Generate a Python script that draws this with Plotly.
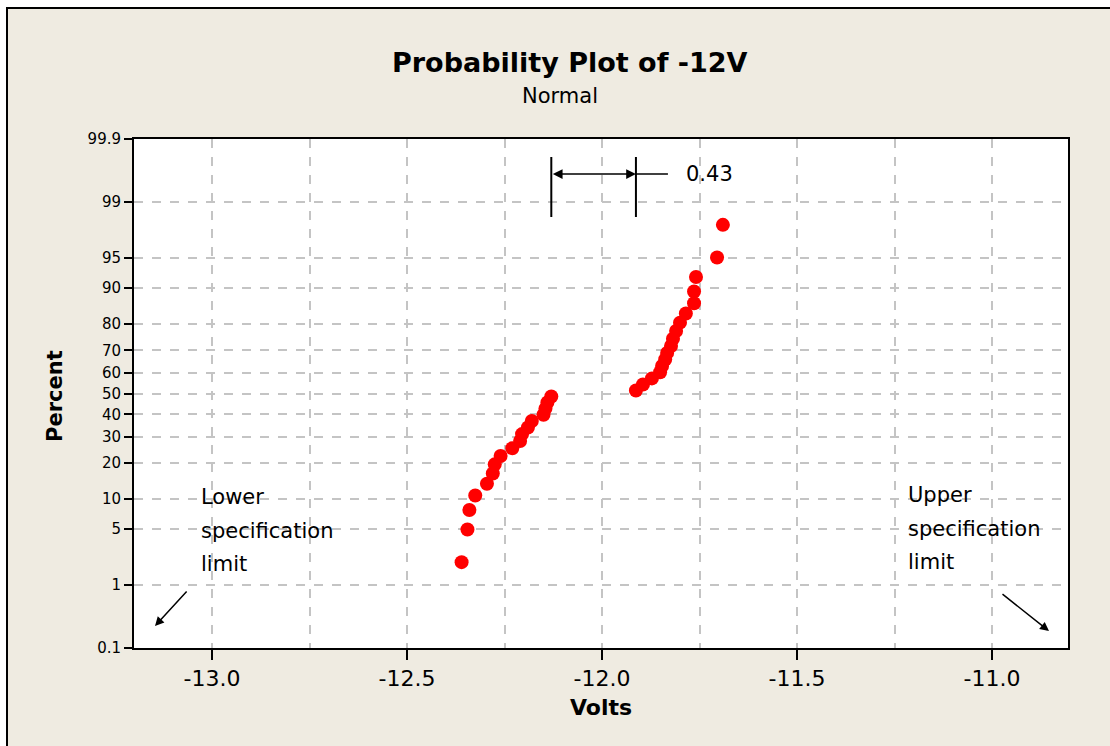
import plotly.graph_objects as go
from statistics import NormalDist

# ---- data ----
volts_low = [-12.36, -12.345, -12.34, -12.325, -12.295, -12.28, -12.275, -12.26, -12.23,
             -12.21, -12.205, -12.19, -12.18, -12.15, -12.145, -12.14, -12.13]
pct_low = [2.03, 4.94, 7.85, 10.76, 13.66, 16.57, 19.48, 22.38, 25.29,
           28.20, 31.10, 34.01, 36.92, 39.83, 42.73, 45.64, 48.55]
volts_high = [-11.913, -11.895, -11.872, -11.851, -11.846, -11.838, -11.833, -11.823, -11.818,
              -11.810, -11.800, -11.785, -11.764, -11.764, -11.759, -11.705, -11.690]
pct_high = [51.45, 54.36, 57.27, 60.17, 63.08, 65.99, 68.90, 71.80, 74.71,
            77.62, 80.52, 83.43, 86.34, 89.24, 92.15, 95.06, 97.97]
x_ticks = [-13.0, -12.5, -12.0, -11.5, -11.0]
x_ticktext = ["-13.0", "-12.5", "-12.0", "-11.5", "-11.0"]
y_ticks_pct = [0.1, 1, 5, 10, 20, 30, 40, 50, 60, 70, 80, 90, 95, 99, 99.9]
y_ticktext = ["0.1", "1", "5", "10", "20", "30", "40", "50", "60", "70", "80", "90", "95", "99", "99.9"]
gap_label = "0.43"

nd = NormalDist()
def z(p):
    return nd.inv_cdf(p / 100.0)

FONT = "DejaVu Sans"
BEIGE = "#EFEBE1"
GRID = "#C4C4C4"

# layout geometry (pixels)
W, H = 1110, 746
L, R, T, B = 134, 1068, 139, 648
def px(xp):
    return (xp - L) / (R - L)
def py(yp):
    return (B - yp) / (B - T)

volts = volts_low + volts_high
pct = pct_low + pct_high

fig = go.Figure()
fig.add_trace(go.Scatter(
    x=volts, y=[z(p) for p in pct], mode="markers",
    marker=dict(color="#FF0000", size=14, line=dict(width=0)),
    hoverinfo="skip", showlegend=False))

shapes = [
    dict(type="rect", xref="paper", yref="paper", x0=px(7), x1=px(W + 10),
         y0=py(8), y1=py(H + 10), fillcolor=BEIGE, line=dict(color="black", width=2),
         layer="below"),
    dict(type="rect", xref="paper", yref="paper", x0=0, x1=1, y0=0, y1=1,
         fillcolor="white", line=dict(width=0), layer="below"),
]

lo_max = max(volts_low)
hi_min = min(volts_high)
for xv in (lo_max, hi_min):
    shapes.append(dict(type="line", xref="x", yref="paper", x0=xv, x1=xv,
                       y0=py(157), y1=py(217), line=dict(color="black", width=2)))
shapes.append(dict(type="line", xref="x", yref="paper", x0=hi_min, x1=hi_min + 32 / 390,
                   y0=py(174), y1=py(174), line=dict(color="black", width=1.5)))

annotations = [
    dict(xref="x", yref="paper", x=hi_min, y=py(174), ax=lo_max, ay=0,
         axref="x", ayref="pixel", text="", showarrow=True, arrowside="end+start",
         arrowhead=2, arrowsize=1.3, arrowwidth=1.5, arrowcolor="black", standoff=0, startstandoff=0),
    dict(xref="paper", yref="paper", x=px(684), y=py(174), text=gap_label, showarrow=False,
         xanchor="left", yanchor="middle", font=dict(family=FONT, size=21, color="black")),
    dict(xref="paper", yref="paper", x=px(570), y=py(62), text="<b>Probability Plot of -12V</b>",
         showarrow=False, xanchor="center", yanchor="middle",
         font=dict(family=FONT, size=27, color="black")),
    dict(xref="paper", yref="paper", x=px(560), y=py(96), text="Normal",
         showarrow=False, xanchor="center", yanchor="middle",
         font=dict(family=FONT, size=21, color="black")),
    dict(xref="paper", yref="paper", x=px(601), y=py(707), text="<b>Volts</b>",
         showarrow=False, xanchor="center", yanchor="middle",
         font=dict(family=FONT, size=22, color="black")),
    dict(xref="paper", yref="paper", x=px(55), y=py(396), text="<b>Percent</b>", textangle=-90,
         showarrow=False, xanchor="center", yanchor="middle",
         font=dict(family=FONT, size=21, color="black")),
    dict(xref="paper", yref="paper", x=px(155), y=py(626), ax=33, ay=-36, text="",
         showarrow=True, arrowhead=2, arrowsize=1.2, arrowwidth=1.5, arrowcolor="black", standoff=0),
    dict(xref="paper", yref="paper", x=px(1049), y=py(631), ax=-48, ay=-38, text="",
         showarrow=True, arrowhead=2, arrowsize=1.2, arrowwidth=1.5, arrowcolor="black", standoff=0),
]
for txt, yy in zip(["Lower", "specification", "limit"], [497, 531, 564]):
    annotations.append(dict(xref="paper", yref="paper", x=px(199), y=py(yy), text=txt,
                            showarrow=False, xanchor="left", yanchor="middle",
                            font=dict(family=FONT, size=21, color="black")))
for txt, yy in zip(["Upper", "specification", "limit"], [495, 529, 562]):
    annotations.append(dict(xref="paper", yref="paper", x=px(906), y=py(yy), text=txt,
                            showarrow=False, xanchor="left", yanchor="middle",
                            font=dict(family=FONT, size=21, color="black")))

fig.update_layout(
    width=W, height=H,
    margin=dict(l=L, r=W - R, t=T, b=H - B),
    paper_bgcolor="white", plot_bgcolor="rgba(0,0,0,0)",
    font=dict(family=FONT, color="black"),
    shapes=shapes, annotations=annotations, showlegend=False,
    xaxis=dict(range=[-13.2, -13.2 + (R - L) / 390], tickvals=x_ticks, ticktext=x_ticktext,
               ticks="outside", ticklen=10, tickwidth=1.5, tickcolor="black",
               tickfont=dict(family=FONT, size=22, color="black"),
               showline=True, mirror=True, linecolor="black", linewidth=2,
               showgrid=True, gridcolor=GRID, griddash="dash", gridwidth=1.5, zeroline=False,
               minor=dict(tick0=-13.0, dtick=0.25, showgrid=True, gridcolor=GRID,
                          griddash="dash", gridwidth=1.5, ticks="")),
    yaxis=dict(range=[z(0.1), z(99.9)], tickvals=[z(p) for p in y_ticks_pct], ticktext=y_ticktext,
               ticks="outside", ticklen=8, tickwidth=1.5, tickcolor="black",
               tickfont=dict(family=FONT, size=15, color="black"),
               showline=True, mirror=True, linecolor="black", linewidth=2,
               showgrid=True, gridcolor=GRID, griddash="dash", gridwidth=1.5, zeroline=False),
)

fig.write_html("out.html")
